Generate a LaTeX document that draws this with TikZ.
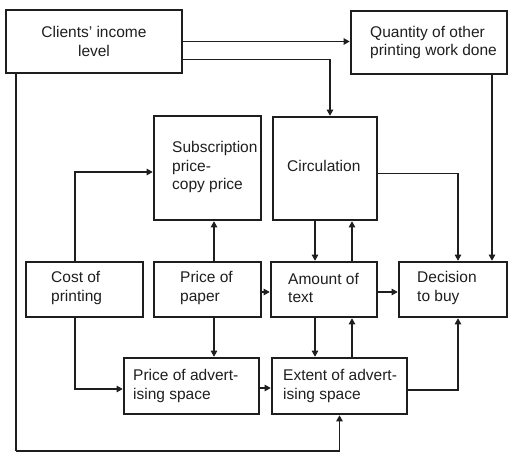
\documentclass[tikz,border=0pt]{standalone}
\usepackage{fontspec}
\setmainfont{Liberation Sans}
\usetikzlibrary{arrows.meta}
\definecolor{ink}{HTML}{1E1E1E}
\begin{document}
\begin{tikzpicture}[x=1pt,y=-1pt,
  box/.style={draw=ink,line width=2.6pt,inner sep=0pt},
  txt/.style={anchor=west,align=left,inner sep=0pt,text=ink,font=\fontsize{15.5}{18.5}\selectfont},
  arr/.style={draw=ink,line width=1.1pt,-{Triangle[length=6pt,width=6.5pt]}},
  ln/.style={draw=ink,line width=1.1pt}]
\useasboundingbox (0,0) rectangle (513,454);
% boxes
\node[box,minimum width=176pt,minimum height=63pt] (clients) at (94,41.5) {};
\node[box,minimum width=156pt,minimum height=63pt] (quantity) at (429,42.5) {};
\node[box,minimum width=107pt,minimum height=104pt] (sub) at (207.5,168) {};
\node[box,minimum width=104pt,minimum height=103pt] (circ) at (325,168.5) {};
\node[box,minimum width=117pt,minimum height=55pt] (cost) at (84.5,289.5) {};
\node[box,minimum width=107pt,minimum height=55pt] (paper) at (207.5,289.5) {};
\node[box,minimum width=106pt,minimum height=55pt] (amount) at (324,289.5) {};
\node[box,minimum width=108pt,minimum height=55pt] (decision) at (453,289.5) {};
\node[box,minimum width=135pt,minimum height=56pt] (padv) at (191.5,386) {};
\node[box,minimum width=135pt,minimum height=56pt] (extent) at (339.5,386) {};
% texts
\node[txt,anchor=center,align=center] (clientsT) at (clients.center) {Clients’ income\\level};
\node[txt] (quantityT) at (370,42.5) {Quantity of other\\printing work done};
\node[txt] (subT) at (172,167) {Subscription\\price-\\copy price};
\node[txt] (circT) at (287,166) {Circulation};
\node[txt] (costT) at (51,288) {Cost of\\printing};
\node[txt] (paperT) at (180,288) {Price of\\paper};
\node[txt] (amountT) at (288,288) {Amount of\\text};
\node[txt] (decisionT) at (417,288) {Decision\\to buy};
\node[txt] (padvT) at (133,386) {Price of advert-\\ising space};
\node[txt] (extentT) at (283,386) {Extent of advert-\\ising space};
% connectors
\coordinate (bl) at (16,451);
\draw[arr] (clients.east) -- (clients.east -| quantity.west);
\draw[arr] ([yshift=-18pt]clients.east) -| ([xshift=5pt]circ.north);
\draw[arr] (quantity.south -| 492,0) -- (decision.north -| 492,0);
\draw[ln] (clients.south -| bl) -- (bl);
\draw[arr] (bl) -| (extent.south);
\draw[arr] (cost.north -| 75,0) |- ([yshift=-4pt]sub.west);
\draw[arr] ([xshift=6.5pt]paper.north) -- ([xshift=6.5pt]sub.south);
\draw[arr] ([xshift=6.5pt]paper.south) -- (padv.north -| 214,0);
\draw[arr] (cost.south -| 75,0) |- ([yshift=-3pt]padv.west);
\draw[arr] ([yshift=-2.5pt]paper.east) -- ([yshift=-2.5pt]amount.west);
\draw[arr] ([yshift=-2.5pt]amount.east) -- ([yshift=-2.5pt]decision.west);
\draw[arr] ([yshift=-2pt]padv.east) -- ([yshift=-2pt]extent.west);
\draw[arr] (circ.south -| 315,0) -- (amount.north -| 315,0);
\draw[arr] (amount.north -| 352,0) -- (circ.south -| 352,0);
\draw[arr] (amount.south -| 315,0) -- (extent.north -| 315,0);
\draw[arr] (extent.north -| 352,0) -- (amount.south -| 352,0);
\draw[arr] ([yshift=-5pt]circ.east) -| (decision.north -| 458,0);
\draw[arr] ([yshift=-4pt]extent.east) -| (decision.south -| 458,0);
\end{tikzpicture}
\end{document}
